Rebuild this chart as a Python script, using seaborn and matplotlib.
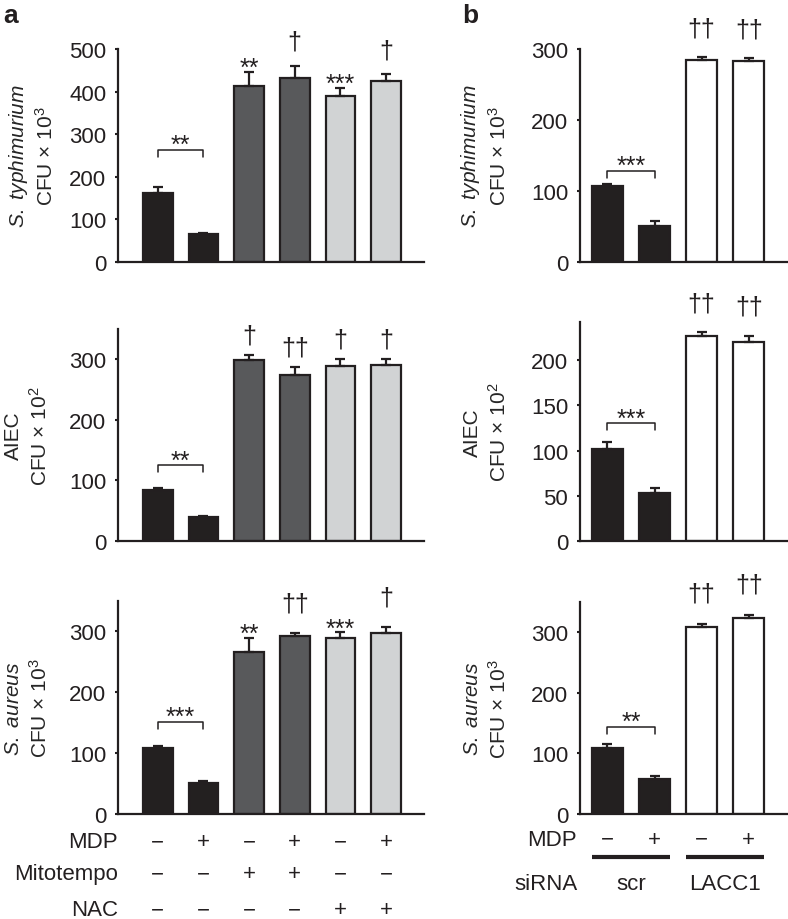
import matplotlib

matplotlib.use("Agg")
import matplotlib.pyplot as plt
import pandas as pd
import seaborn as sns


FIG_W, FIG_H = 788, 920

# panel a: treatments under each bar
A_MDP = ["−", "+", "−", "+", "−", "+"]
A_MITOTEMPO = ["−", "−", "+", "+", "−", "−"]
A_NAC = ["−", "−", "−", "−", "+", "+"]
A_GROUP = ["vehicle", "vehicle", "mitotempo", "mitotempo", "nac", "nac"]

A_TYPHI_MEAN = [161, 66, 413, 431, 389, 425]
A_TYPHI_SEM = [14, 3, 34, 30, 20, 16]
A_TYPHI_MARK = ["", "", "**", "†", "***", "†"]
A_TYPHI_PAIR = ("**", 264)

A_AIEC_MEAN = [84, 40, 298, 274, 289, 291]
A_AIEC_SEM = [3, 1.5, 9, 13, 11, 10]
A_AIEC_MARK = ["", "", "†", "††", "†", "†"]
A_AIEC_PAIR = ("**", 125)

A_AUREUS_MEAN = [108, 51, 267, 292, 290, 298]
A_AUREUS_SEM = [4, 4, 23, 6, 9, 9]
A_AUREUS_MARK = ["", "", "**", "††", "***", "†"]
A_AUREUS_PAIR = ("***", 151)

# panel b: siRNA knockdown
B_MDP = ["−", "+", "−", "+"]
B_SIRNA = ["scr", "LACC1"]
B_GROUP = ["scr", "scr", "lacc1", "lacc1"]

B_TYPHI_MEAN = [107, 51, 284, 283]
B_TYPHI_SEM = [3.5, 7, 5, 5]
B_TYPHI_MARK = ["", "", "††", "††"]
B_TYPHI_PAIR = ("***", 128)

B_AIEC_MEAN = [101.5, 53, 226, 219.5]
B_AIEC_SEM = [7.5, 6, 4.5, 7.5]
B_AIEC_MARK = ["", "", "††", "††"]
B_AIEC_PAIR = ("***", 130)

B_AUREUS_MEAN = [109, 58, 308, 324]
B_AUREUS_SEM = [6, 5, 6, 5]
B_AUREUS_MARK = ["", "", "††", "††"]
B_AUREUS_PAIR = ("**", 144)

LABEL_TYPHI = "$\\mathit{S.\\ typhimurium}$\nCFU × 10$^3$"
LABEL_AIEC = "AIEC\nCFU × 10$^2$"
LABEL_AUREUS = "$\\mathit{S.\\ aureus}$\nCFU × 10$^3$"

INK = "#231f20"
PALETTE = {
    "vehicle": INK,
    "mitotempo": "#58595b",
    "nac": "#d1d3d4",
    "scr": INK,
    "lacc1": "#ffffff",
}
FS = 16


def setup_style():
    sns.set_theme(style="white")
    plt.rcParams["font.family"] = ["Liberation Sans", "DejaVu Sans"]
    plt.rcParams["mathtext.fontset"] = "custom"
    plt.rcParams["mathtext.rm"] = "Liberation Sans"
    plt.rcParams["mathtext.it"] = "Liberation Sans:italic"
    plt.rcParams["mathtext.bf"] = "Liberation Sans:bold"
    plt.rcParams["text.color"] = INK
    plt.rcParams["ytick.color"] = INK


def add_axes(fig, left, right, top, bottom):
    return fig.add_axes([left / FIG_W, 1 - bottom / FIG_H, (right - left) / FIG_W, (bottom - top) / FIG_H])


def draw_bars(ax, means, sems, groups, marks, pair, ylim, yticks, xlim, ylabel, label_x, dagger_off):
    n = len(means)
    df = pd.DataFrame({"bar": [str(i) for i in range(n)], "cfu": means, "group": groups})
    sns.barplot(
        data=df, x="bar", y="cfu", hue="group", palette=PALETTE, dodge=False,
        legend=False, width=0.65, errorbar=None, edgecolor=INK, linewidth=1.6, ax=ax,
    )
    ax.errorbar(
        range(n), means, yerr=[[0] * n, sems], fmt="none", ecolor=INK,
        elinewidth=1.6, capsize=3.8, capthick=1.6, zorder=3,
    )
    ax.set_xlim(*xlim)
    ax.set_ylim(*ylim)
    ax.set_yticks(yticks)
    ax.set_xticks([])
    ax.set_xlabel("")
    ax.set_ylabel(ylabel, fontsize=15, linespacing=1.3)
    ax.yaxis.set_label_coords(label_x, 0.5)
    ax.tick_params(axis="y", length=2.5, width=1.5, pad=6, labelsize=FS, direction="out", left=True)
    sns.despine(ax=ax)
    for side in ("left", "bottom"):
        ax.spines[side].set_linewidth(1.6)
        ax.spines[side].set_color(INK)

    for i, mark in enumerate(marks):
        if not mark:
            continue
        dagger = "†" in mark
        ax.annotate(
            mark, xy=(i, means[i] + sems[i]), xytext=(0, dagger_off if dagger else -2.5),
            textcoords="offset points", ha="center", va="baseline",
            fontsize=18, annotation_clip=False,
        )

    # bracket between the first two bars
    text, y = pair
    y_disp = ax.transData.transform((0, y))[1]
    y_low = ax.transData.inverted().transform((0, y_disp - 7))[1]
    ax.plot([0, 0, 1, 1], [y_low, y, y, y_low], color=INK, linewidth=1.1, clip_on=False)
    ax.annotate(text, xy=(0.5, y), xytext=(0, -1.5), textcoords="offset points",
                ha="center", va="baseline", fontsize=18)


def main():
    setup_style()
    fig = plt.figure(figsize=(FIG_W / 100, FIG_H / 100), dpi=100)

    a_xlim = (-0.87, 5.83)
    b_xlim = (-0.58, 3.81)

    ax = add_axes(fig, 118, 424, 50, 263)
    draw_bars(ax, A_TYPHI_MEAN, A_TYPHI_SEM, A_GROUP, A_TYPHI_MARK, A_TYPHI_PAIR,
              (0, 500), range(0, 501, 100), a_xlim, LABEL_TYPHI, -0.2, 12)
    ax = add_axes(fig, 118, 424, 330, 542)
    draw_bars(ax, A_AIEC_MEAN, A_AIEC_SEM, A_GROUP, A_AIEC_MARK, A_AIEC_PAIR,
              (0, 350), range(0, 301, 100), a_xlim, LABEL_AIEC, -0.22, 9)
    ax_a3 = add_axes(fig, 118, 424, 602, 815)
    draw_bars(ax_a3, A_AUREUS_MEAN, A_AUREUS_SEM, A_GROUP, A_AUREUS_MARK, A_AUREUS_PAIR,
              (0, 350), range(0, 301, 100), a_xlim, LABEL_AUREUS, -0.22, 16)

    ax = add_axes(fig, 580, 787, 50, 263)
    draw_bars(ax, B_TYPHI_MEAN, B_TYPHI_SEM, B_GROUP, B_TYPHI_MARK, B_TYPHI_PAIR,
              (0, 300), range(0, 301, 100), b_xlim, LABEL_TYPHI, -0.34, 15)
    ax = add_axes(fig, 580, 787, 323, 542)
    draw_bars(ax, B_AIEC_MEAN, B_AIEC_SEM, B_GROUP, B_AIEC_MARK, B_AIEC_PAIR,
              (0, 242), range(0, 201, 50), b_xlim, LABEL_AIEC, -0.34, 16)
    ax_b3 = add_axes(fig, 580, 787, 603, 815)
    draw_bars(ax_b3, B_AUREUS_MEAN, B_AUREUS_SEM, B_GROUP, B_AUREUS_MARK, B_AUREUS_PAIR,
              (0, 350), range(0, 301, 100), b_xlim, LABEL_AUREUS, -0.34, 17)

    # treatment table under panel a
    rows_a = [("MDP", A_MDP, 20), ("Mitotempo", A_MITOTEMPO, 43), ("NAC", A_NAC, 69)]
    for name, signs, drop in rows_a:
        ax_a3.annotate(name, xy=(0, 0), xycoords="axes fraction", xytext=(0, -drop),
                       textcoords="offset points", ha="right", va="center", fontsize=FS)
        for i, sign in enumerate(signs):
            ax_a3.annotate(sign, xy=(i, 0), xycoords=("data", "axes fraction"), xytext=(0, -drop),
                           textcoords="offset points", ha="center", va="center", fontsize=FS)

    # table under panel b
    ax_b3.annotate("MDP", xy=(0, 0), xycoords="axes fraction", xytext=(-2, -18),
                   textcoords="offset points", ha="right", va="center", fontsize=FS)
    for i, sign in enumerate(B_MDP):
        ax_b3.annotate(sign, xy=(i, 0), xycoords=("data", "axes fraction"), xytext=(0, -18),
                       textcoords="offset points", ha="center", va="center", fontsize=FS)
    trans = ax_b3.get_xaxis_transform()
    for k, name in enumerate(B_SIRNA):
        x0, x1 = 2 * k - 0.325, 2 * k + 1.325
        ax_b3.plot([x0, x1], [-43 / 212, -43 / 212], transform=trans, color=INK,
                   linewidth=3, solid_capstyle="butt", clip_on=False)
        ax_b3.annotate(name, xy=(2 * k + 0.5, 0), xycoords=("data", "axes fraction"), xytext=(0, -50),
                       textcoords="offset points", ha="center", va="center", fontsize=FS)
    ax_b3.annotate("siRNA", xy=(0, 0), xycoords="axes fraction", xytext=(-2, -50),
                   textcoords="offset points", ha="right", va="center", fontsize=FS)

    fig.text(3 / FIG_W, 1 - 4 / FIG_H, "a", fontsize=19, fontweight="bold", ha="left", va="top")
    fig.text(462 / FIG_W, 1 - 4 / FIG_H, "b", fontsize=19, fontweight="bold", ha="left", va="top")

    fig.savefig("out.png", dpi=100, facecolor="white")
    plt.close(fig)


if __name__ == "__main__":
    main()
